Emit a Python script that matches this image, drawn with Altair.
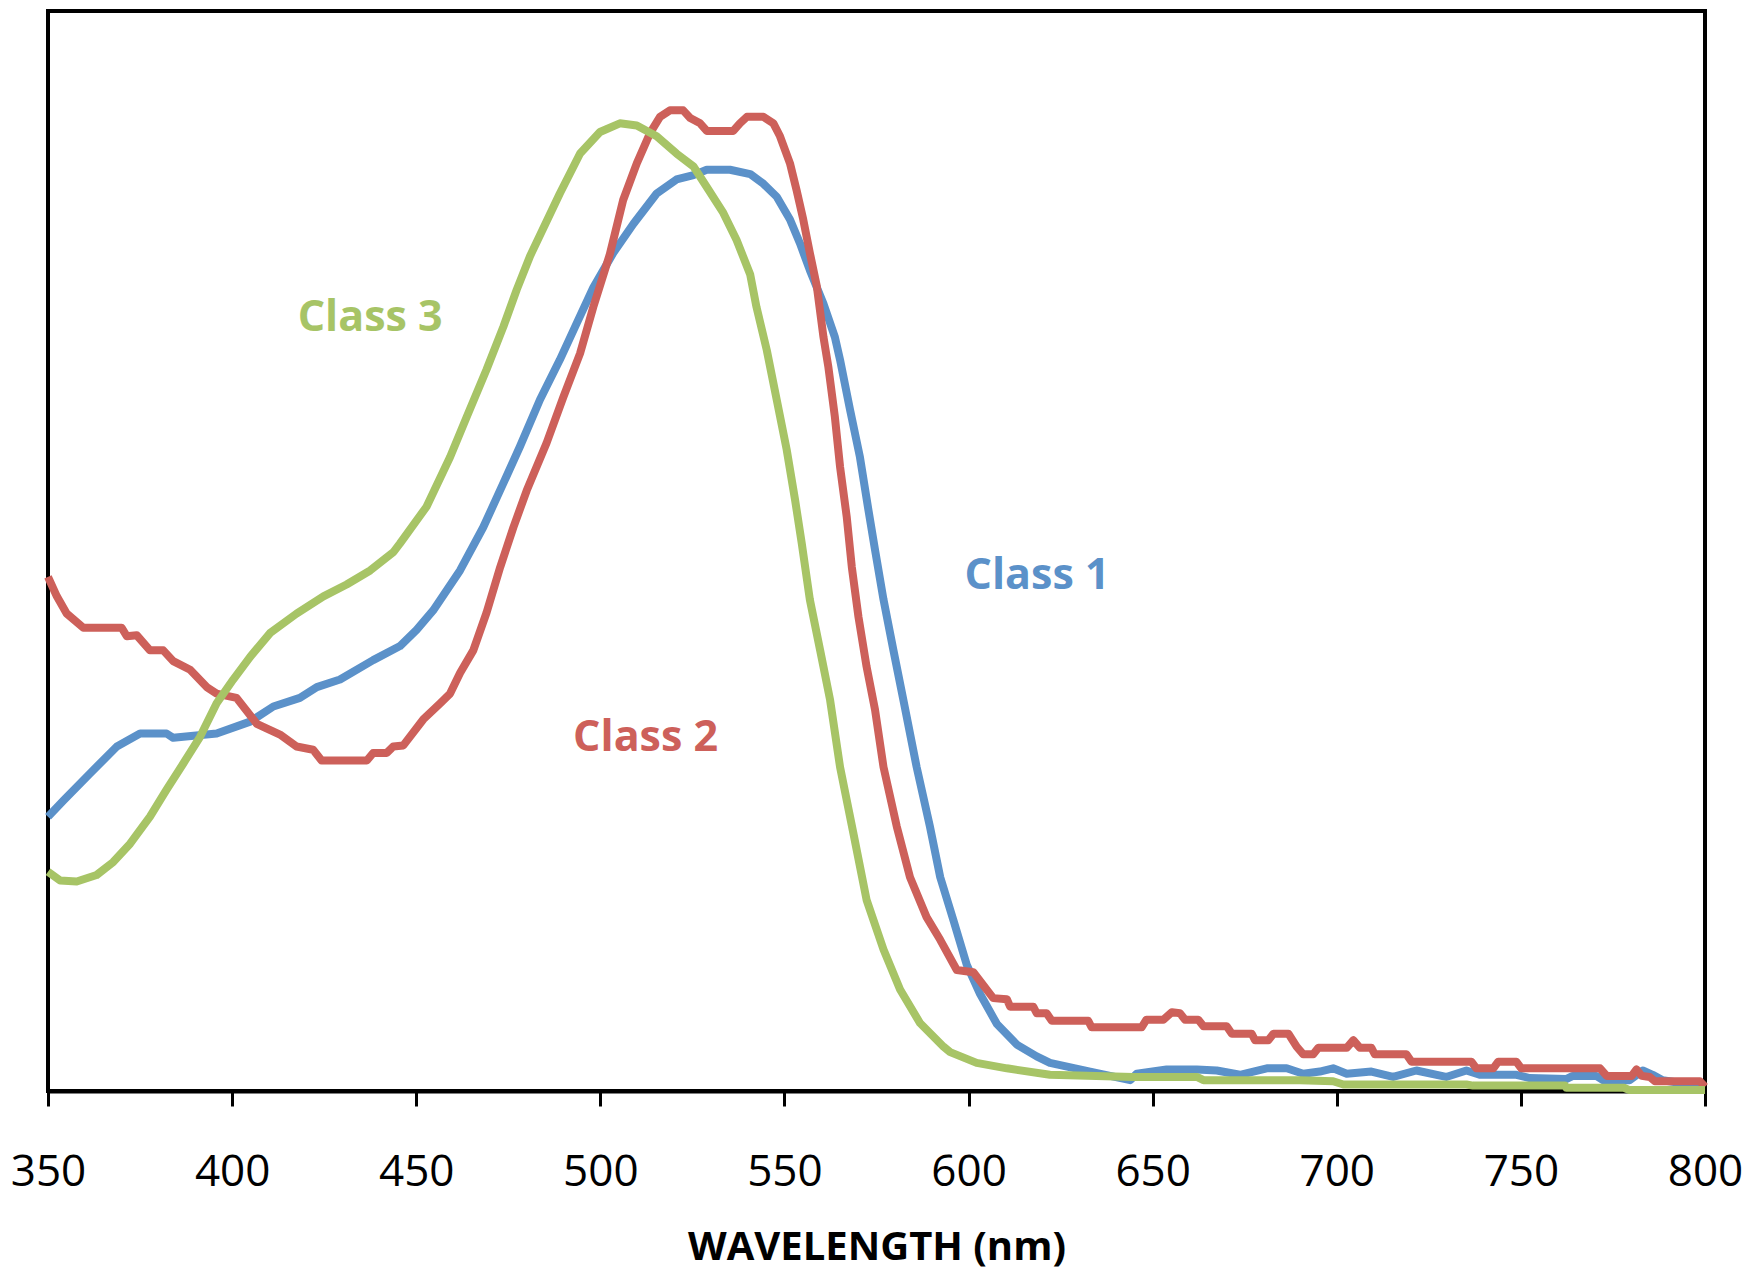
import altair as alt
import pandas as pd

# Class 1 (blue)
c1_x = [350, 354.2, 361.4, 368.7, 375, 382.2, 384, 395.8, 404.9, 411.2, 418.4, 423, 429.3, 438.3,
        445.6, 450.1, 454.6, 461.9, 468.2, 473.7, 478.2, 483.6, 489, 493.6, 498.1, 503.5, 509,
        515.3, 520.7, 525.3, 528.9, 535.2, 540.7, 544.3, 547.9, 551.5, 554.2, 556.9, 560.6, 563.7,
        565.1, 567.8, 570.5, 572.8, 574.6, 576.9, 579.6, 582.3, 585.9, 589.5, 592.3, 595.9, 599.5,
        603.1, 607.7, 613.1, 618.5, 622.1, 633, 643.9, 645.7, 653.8, 662, 667.4, 673.7, 681, 686.4,
        690.9, 695.4, 699, 702.7, 709.4, 715.3, 721.6, 729.7, 735.2, 738.8, 748.8, 752.4, 762.3,
        764.1, 770.5, 772.3, 779.5, 783.1, 785.8, 788.5, 800]
c1_y = [0.254, 0.269, 0.294, 0.319, 0.331, 0.331, 0.327, 0.331, 0.342, 0.356, 0.364, 0.374, 0.381, 0.399,
        0.412, 0.427, 0.445, 0.482, 0.522, 0.563, 0.597, 0.640, 0.677, 0.711, 0.744, 0.776, 0.803,
        0.831, 0.844, 0.848, 0.853, 0.853, 0.849, 0.840, 0.828, 0.807, 0.785, 0.760, 0.729, 0.698,
        0.677, 0.631, 0.587, 0.538, 0.501, 0.455, 0.408, 0.362, 0.300, 0.245, 0.198, 0.158, 0.117,
        0.090, 0.062, 0.043, 0.032, 0.026, 0.018, 0.010, 0.016, 0.020, 0.020, 0.019, 0.015, 0.021, 0.021,
        0.016, 0.018, 0.021, 0.016, 0.018, 0.013, 0.019, 0.013, 0.019, 0.015, 0.015, 0.012, 0.011,
        0.014, 0.014, 0.010, 0.010, 0.019, 0.015, 0.010, 0.004]

# Class 2 (red)
c2_x = [350, 352.4, 355.1, 359.6, 370, 371.4, 374.1, 377.7, 381.3, 384, 388.6, 393.1, 395.8, 401.2,
        406.7, 413, 417.5, 422, 424.3, 436.6, 438.3, 442, 443.8, 446.5, 451.9, 456.5, 459.2, 461.9,
        465.5, 469.1, 472.8, 476.4, 480, 485.4, 490, 494.5, 498.1, 502.6, 506.2, 509.9, 513.5, 516.2,
        518.9, 522.5, 524.4, 527.1, 528.9, 536.1, 537.9, 539.8, 544.3, 547, 548.8, 551.5, 553.3,
        555.1, 556.9, 558.8, 560.6, 561.9, 563.7, 565.1, 566.9, 568.3, 570.1, 572.3, 574.6, 576.9,
        580.5, 584.1, 588.6, 592.3, 596.8, 601.3, 606.7, 610.4, 611.3, 617.6, 618.5, 621.2, 622.6,
        632.5, 633.4, 647, 648.3, 652.9, 655.2, 657.4, 658.8, 662.4, 663.8, 670.1, 671.5, 676.9,
        677.8, 681.4, 682.8, 686.9, 689.1, 690.9, 693.6, 695, 702.7, 704.5, 706.3, 709.4, 710.3,
        718.9, 720.3, 736.6, 737.9, 742.5, 743.8, 748.8, 750.1, 771.5, 773.3, 780.1, 781.4, 782.8,
        785, 786.4, 798.6, 800]
c2_y = [0.476, 0.458, 0.442, 0.429, 0.429, 0.421, 0.422, 0.408, 0.408, 0.398, 0.390, 0.374, 0.368, 0.364,
        0.340, 0.330, 0.319, 0.316, 0.306, 0.306, 0.313, 0.313, 0.319, 0.320, 0.344, 0.359, 0.368, 0.387,
        0.408, 0.443, 0.485, 0.522, 0.556, 0.600, 0.643, 0.683, 0.726, 0.775, 0.825, 0.859, 0.887, 0.902,
        0.908, 0.908, 0.901, 0.896, 0.889, 0.889, 0.896, 0.902, 0.902, 0.896, 0.884, 0.859, 0.834,
        0.807, 0.776, 0.745, 0.698, 0.671, 0.624, 0.578, 0.532, 0.485, 0.439, 0.393, 0.353, 0.300,
        0.245, 0.198, 0.161, 0.140, 0.112, 0.110, 0.086, 0.085, 0.078, 0.078, 0.072, 0.072, 0.065,
        0.065, 0.059, 0.059, 0.066, 0.066, 0.073, 0.072, 0.066, 0.066, 0.060, 0.060, 0.053, 0.053,
        0.047, 0.047, 0.053, 0.053, 0.041, 0.034, 0.034, 0.040, 0.040, 0.047, 0.040, 0.040, 0.034,
        0.034, 0.027, 0.027, 0.021, 0.021, 0.027, 0.027, 0.021, 0.021, 0.014, 0.014, 0.020, 0.014,
        0.013, 0.009, 0.009, 0.004]

# Class 3 (green)
c3_x = [350, 353.3, 357.8, 363.2, 367.7, 372.3, 377.7, 382.2, 386.7, 391.3, 395.8, 400.3, 404.9,
        410.3, 417.5, 424.8, 431.1, 437.5, 443.8, 445.6, 452.8, 459.2, 463.7, 469.1, 473.7, 477.3,
        480.9, 489, 494.5, 499.9, 505.3, 509.9, 515.3, 520.7, 525.3, 528.9, 533.4, 537, 540.7, 542.4,
        545.2, 547.9, 550.6, 552.9, 554.7, 556.9, 559.7, 562.4, 565.1, 568.7, 572.3, 576.9, 581.4,
        586.8, 593.2, 595, 602.2, 610.4, 622.1, 644.7, 662, 663.8, 690, 699, 701.8, 735.2, 737, 762,
        762.3, 778, 779.3, 800]
c3_y = [0.203, 0.195, 0.194, 0.200, 0.212, 0.229, 0.254, 0.279, 0.303, 0.328, 0.359, 0.381, 0.402,
        0.424, 0.442, 0.458, 0.469, 0.482, 0.499, 0.507, 0.541, 0.587, 0.624, 0.668, 0.708, 0.742,
        0.773, 0.831, 0.868, 0.888, 0.896, 0.894, 0.884, 0.868, 0.856, 0.837, 0.813, 0.788, 0.756, 0.726,
        0.686, 0.640, 0.594, 0.547, 0.507, 0.455, 0.408, 0.362, 0.300, 0.239, 0.177, 0.131, 0.094,
        0.063, 0.041, 0.036, 0.026, 0.021, 0.015, 0.013, 0.013, 0.010, 0.010, 0.009, 0.006, 0.006, 0.005, 0.005,
        0.003, 0.003, 0.001, 0.001]

series_names = ["Class 1", "Class 2", "Class 3"]
series_colors = ["#5B91C9", "#CD605A", "#A7C466"]

label_names = ["Class 1", "Class 2", "Class 3"]
label_x = [618.6, 512.3, 437.5]
label_y = [0.477, 0.327, 0.716]

x_ticks = [350, 400, 450, 500, 550, 600, 650, 700, 750, 800]

frames = []
for name, xs, ys in zip(series_names, [c1_x, c2_x, c3_x], [c1_y, c2_y, c3_y]):
    frames.append(pd.DataFrame({"wl": xs, "val": ys, "series": name}))

color_scale = alt.Scale(domain=series_names, range=series_colors)
x_enc = alt.X("wl:Q", scale=alt.Scale(domain=[350, 800], nice=False, zero=False),
              axis=alt.Axis(values=x_ticks, title="WAVELENGTH (nm)", grid=False,
                            labelFont="Open Sans", labelFontSize=44, labelColor="black",
                            labelPadding=44, tickSize=15, tickWidth=3, tickColor="black",
                            domainColor="black", domainWidth=4,
                            titleFont="Open Sans", titleFontSize=40, titleFontWeight="bold",
                            titleColor="black", titlePadding=33, labelFlush=False))
y_enc = alt.Y("val:Q", scale=alt.Scale(domain=[0, 1], nice=False), axis=None)

layers = []
for df in frames:
    layers.append(
        alt.Chart(df).mark_line(strokeWidth=8, strokeJoin="round").encode(
            x=x_enc, y=y_enc,
            color=alt.Color("series:N", scale=color_scale, legend=None),
        )
    )

labels_df = pd.DataFrame({"wl": label_x, "val": label_y, "series": label_names})
text = alt.Chart(labels_df).mark_text(font="Open Sans", fontSize=43, fontWeight="bold",
                                      align="center", baseline="middle").encode(
    x=alt.X("wl:Q"), y=alt.Y("val:Q"),
    text="series:N",
    color=alt.Color("series:N", scale=color_scale, legend=None),
)

chart = alt.layer(*layers, text).properties(
    width=1657, height=1080,
    autosize=alt.AutoSizeParams(type="none"),
    padding={"left": 48, "top": 11, "right": 44, "bottom": 182},
    background="white",
).configure_view(stroke="black", strokeWidth=4)

chart.save("out.html", embed_options={"renderer": "svg", "actions": False})
